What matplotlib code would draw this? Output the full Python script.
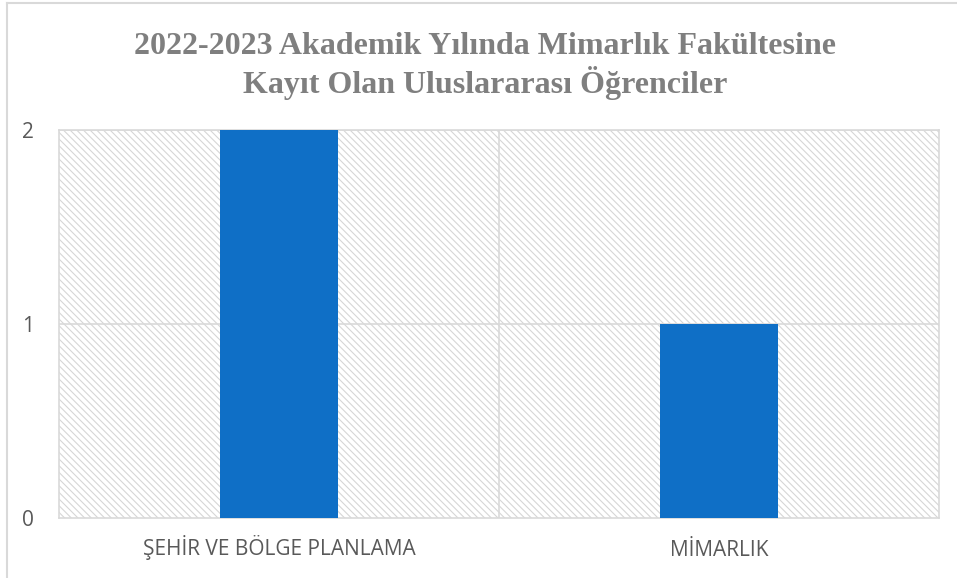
import matplotlib.pyplot as plt
from matplotlib.patches import Rectangle
from matplotlib.lines import Line2D

categories = ['ŞEHİR VE BÖLGE PLANLAMA', 'MİMARLIK']
counts = [2, 1]
yticks = [0, 1, 2]
title = '2022-2023 Akademik Yılında Mimarlık Fakültesine\nKayıt Olan Uluslararası Öğrenciler'

plt.rcParams['hatch.linewidth'] = 0.8

fig = plt.figure(figsize=(9.57, 5.78), dpi=100)
ax = fig.add_axes([59/957, 60/578, 880/957, 388/578])

# hatched background of the plot area
bg = Rectangle((0, 0), 1, 1, transform=ax.transAxes, facecolor='white',
               edgecolor='#d6d6d6', hatch='\\\\\\\\\\', linewidth=0, zorder=0)
ax.add_patch(bg)

x = range(len(categories))
ax.bar(x, counts, width=0.27, color='#0f6fc6', zorder=3)

ax.set_xlim(-0.5, len(categories) - 0.5)
ax.set_ylim(0, 2)
ax.set_yticks(yticks)
ax.set_xticks(list(x))
ax.set_xticklabels(categories)

for v in yticks[1:]:
    ax.axhline(v, color='#d9d9d9', lw=1.2, zorder=1)
for i in range(1, len(categories)):
    ax.axvline(i - 0.5, color='#d9d9d9', lw=1.2, zorder=1)

for s in ax.spines.values():
    s.set_color('#d9d9d9')
    s.set_linewidth(1.2)

ax.tick_params(length=0, labelsize=15, labelcolor='#595959')
ax.tick_params(axis='y', pad=18)
ax.tick_params(axis='x', pad=27)
for lab in ax.get_xticklabels() + ax.get_yticklabels():
    lab.set_fontfamily('Open Sans')
for lab in ax.get_xticklabels():
    lab.set_verticalalignment('baseline')

fig.text(485/957, 1 - 66/578, title, ha='center', va='center',
         fontsize=23, fontweight='bold', color='#7f7f7f',
         family='Liberation Serif', linespacing=1.17)

# chart frame (left and top edges visible)
fig.add_artist(Line2D([7/957, 7/957], [0, 1 - 3/578], transform=fig.transFigure,
                      color='#d9d9d9', lw=1.5))
fig.add_artist(Line2D([7/957, 1], [1 - 3/578, 1 - 3/578], transform=fig.transFigure,
                      color='#d9d9d9', lw=1.5))

fig.savefig('out.png', dpi=100)
